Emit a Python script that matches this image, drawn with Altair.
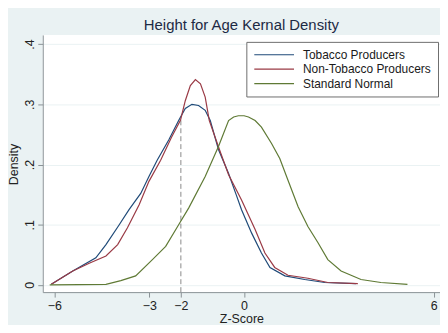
import altair as alt
import pandas as pd

series_names = ["Tobacco Producers", "Non-Tobacco Producers", "Standard Normal"]
series_colors = ["#1f4a78", "#9a3a45", "#5f7a35"]

tob_x = [-6.1, -5.42, -4.69, -4.37, -3.95, -3.64, -3.27, -3.01, -2.75, -2.38, -2.07, -1.86, -1.65,
         -1.44, -1.23, -1.07, -0.81, -0.49, -0.25, -0.08, 0.24, 0.55, 0.82, 1.29, 1.92, 2.55, 3.54]
tob_y = [0.001, 0.023, 0.045, 0.067, 0.100, 0.125, 0.152, 0.180, 0.207, 0.241, 0.273, 0.293, 0.300,
         0.298, 0.290, 0.273, 0.225, 0.185, 0.150, 0.125, 0.086, 0.053, 0.029, 0.015, 0.009, 0.004, 0.002]

non_x = [-6.1, -5.42, -4.90, -4.37, -4.00, -3.69, -3.32, -3.01, -2.64, -2.30, -2.01, -1.86, -1.70,
         -1.54, -1.38, -1.23, -1.10, -0.78, -0.49, -0.08, 0.35, 0.66, 0.97, 1.39, 2.02, 2.65, 3.60]
non_y = [0.001, 0.023, 0.036, 0.048, 0.067, 0.095, 0.133, 0.172, 0.207, 0.245, 0.274, 0.306, 0.331,
         0.341, 0.334, 0.312, 0.273, 0.225, 0.183, 0.141, 0.092, 0.053, 0.029, 0.016, 0.011, 0.004, 0.002]

std_x = [-6.15, -5.2, -4.37, -3.9, -3.43, -2.90, -2.48, -2.07, -1.75, -1.23, -0.81, -0.49, -0.33, -0.18,
         0.0, 0.14, 0.35, 0.55, 0.87, 1.13, 1.39, 1.71, 2.02, 2.34, 2.65, 3.07, 3.70, 4.33, 5.17]
std_y = [0.0, 0.0005, 0.001, 0.007, 0.015, 0.042, 0.064, 0.100, 0.128, 0.180, 0.230, 0.273, 0.279, 0.281,
         0.281, 0.279, 0.273, 0.262, 0.235, 0.210, 0.174, 0.130, 0.097, 0.070, 0.042, 0.023, 0.009, 0.004, 0.001]

x_ticks = [-6, -3, -2, 0, 6]
y_ticks = [0, 0.1, 0.2, 0.3, 0.4]
x_domain = [-6.37, 6.20]
y_domain = [-0.012, 0.4153]

ref_x = [-2]
ref_bottom = [-0.012]
ref_top = [0.278]

rows = []
for name, xs, ys in [(series_names[0], tob_x, tob_y),
                     (series_names[1], non_x, non_y),
                     (series_names[2], std_x, std_y)]:
    for i, (a, b) in enumerate(zip(xs, ys)):
        rows.append({"series": name, "z": a, "density": b, "i": i})
df = pd.DataFrame(rows)
ref_df = pd.DataFrame({"x": ref_x, "y0": ref_bottom, "y1": ref_top})

FONT = "Liberation Sans"

x_enc = alt.X("z:Q", scale=alt.Scale(domain=x_domain, nice=False, zero=False),
              axis=alt.Axis(values=x_ticks, title="Z-Score", grid=False,
                            tickSize=5, labelPadding=2, labelFontSize=12.5,
                            titleFontSize=12.5, titleFontWeight="normal",
                            titleBaseline="alphabetic", titleY=31))
y_enc = alt.Y("density:Q", scale=alt.Scale(domain=y_domain, nice=False, zero=False),
              axis=alt.Axis(values=y_ticks, title="Density", grid=True,
                            labelExpr="datum.value == 0 ? '0' : replace(format(datum.value, '.1f'), '0.', '.')",
                            labelAngle=270, labelAlign="center", labelBaseline="alphabetic",
                            tickSize=5, labelPadding=4, labelFontSize=12.5,
                            titleFontSize=12.5, titleFontWeight="normal",
                            titleAngle=270, titleAlign="center", titleBaseline="alphabetic",
                            titleX=-25, titleY=130))

lines = alt.Chart(df).mark_line(strokeWidth=1.2).encode(
    x=x_enc,
    y=y_enc,
    color=alt.Color("series:N",
                    scale=alt.Scale(domain=series_names, range=series_colors),
                    sort=series_names,
                    legend=alt.Legend(title=None, orient="none", legendX=205, legendY=7,
                                      symbolType="stroke", symbolSize=1600, symbolStrokeWidth=1.2,
                                      clipHeight=12,
                                      labelFontSize=12, labelOffset=8, padding=7, rowPadding=2.5,
                                      fillColor="white", strokeColor="#6e6e6e", labelColor="#1a1a1a")),
    order="i:Q",
)

rule = alt.Chart(ref_df).mark_rule(color="#8a8a8a", strokeDash=[5, 3], strokeWidth=1).encode(
    x="x:Q", y="y0:Q", y2="y1:Q"
)

chart = alt.layer(rule, lines).properties(
    width=400, height=259,
    padding={"left": 35, "top": 26, "right": 0, "bottom": 32},
    autosize=alt.AutoSizeParams(type="none"),
    background="#eaf2f3",
    title=alt.TitleParams("Height for Age Kernal Density", fontSize=15, fontWeight="normal",
                          color="#1d2a44", font=FONT, anchor="middle", baseline="alphabetic",
                          offset=4, dy=14),
).configure_view(fill="white", stroke=None).configure_axis(
    domainColor="#8a9296", tickColor="#8a9296", gridColor="#eaf2f3", gridWidth=1,
    labelColor="#222222", titleColor="#222222", labelFont=FONT, titleFont=FONT,
).configure_legend(labelFont=FONT)

chart.save("out.html", embed_options={"renderer": "svg", "actions": False})
